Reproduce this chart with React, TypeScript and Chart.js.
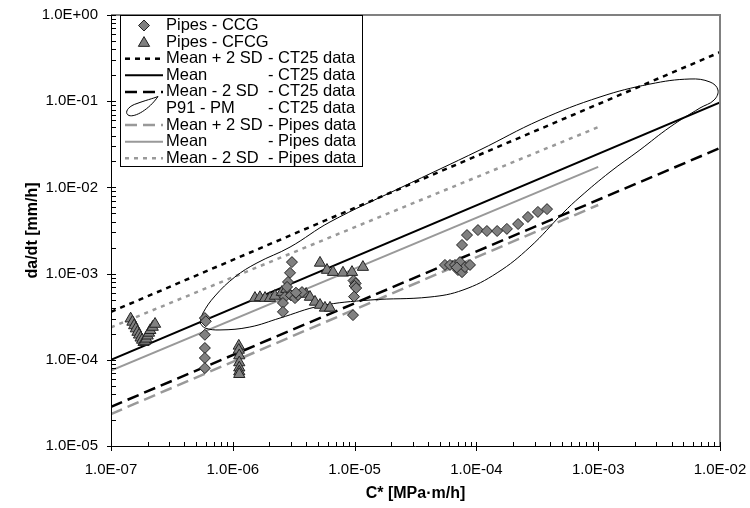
import React, { useEffect, useRef } from 'react';
import { Chart, registerables } from 'chart.js';

Chart.register(...registerables);

type Pt = [number, number];

// ---- axis ticks ----
const xMajorTicks = [1e-7, 1e-6, 1e-5, 1e-4, 1e-3, 1e-2];
const xTickLabels = ['1.0E-07', '1.0E-06', '1.0E-05', '1.0E-04', '1.0E-03', '1.0E-02'];
const yMajorTicks = [1e-5, 1e-4, 1e-3, 1e-2, 1e-1, 1];
const yTickLabels = ['1.0E-05', '1.0E-04', '1.0E-03', '1.0E-02', '1.0E-01', '1.0E+00'];
const minorMultipliers = [2, 3, 4, 5, 6, 7, 8, 9];

// ---- data ----
const ccgPoints: Pt[] = [
  [5.9e-7, 3.05e-4], [6.0e-7, 2.8e-4], [5.9e-7, 1.95e-4], [5.9e-7, 1.37e-4], [5.9e-7, 1.05e-4], [5.9e-7, 8.0e-5],
  [3.06e-6, 1.36e-3], [2.95e-6, 1.02e-3], [2.84e-6, 8.0e-4], [2.79e-6, 7.0e-4], [2.68e-6, 5.35e-4], [2.58e-6, 4.56e-4], [2.58e-6, 3.6e-4],
  [3.0e-6, 5.6e-4], [3.24e-6, 5.2e-4], [3.43e-6, 5.65e-4], [3.7e-6, 6.1e-4], [3.3e-6, 6.0e-4],
  [9.8e-6, 8.3e-4], [1.02e-5, 7.7e-4], [1.0e-5, 7.2e-4], [1.03e-5, 6.8e-4], [9.9e-6, 5.4e-4], [9.7e-6, 3.3e-4],
  [5.52e-5, 1.26e-3], [6.07e-5, 1.26e-3], [6.67e-5, 1.26e-3], [7.06e-5, 1.1e-3], [7.33e-5, 1.36e-3], [7.62e-5, 1.04e-3],
  [8.06e-5, 1.19e-3], [8.86e-5, 1.26e-3], [6.9e-5, 1.18e-3],
  [7.62e-5, 2.15e-3], [8.37e-5, 2.8e-3], [1.03e-4, 3.2e-3], [1.22e-4, 3.12e-3], [1.48e-4, 3.12e-3], [1.78e-4, 3.3e-3],
  [2.2e-4, 3.76e-3], [2.65e-4, 4.54e-3], [3.2e-4, 5.19e-3], [3.8e-4, 5.6e-3],
];

const cfcgPoints: Pt[] = [
  [1.45e-7, 3.0e-4], [1.5e-7, 2.75e-4], [1.55e-7, 2.5e-4], [1.6e-7, 2.3e-4], [1.65e-7, 2.1e-4], [1.7e-7, 1.95e-4],
  [1.75e-7, 1.8e-4], [1.8e-7, 1.7e-4], [1.85e-7, 1.6e-4], [1.9e-7, 1.65e-4], [1.95e-7, 1.75e-4], [2.0e-7, 1.9e-4],
  [2.05e-7, 2.05e-4], [2.1e-7, 2.2e-4], [2.2e-7, 2.4e-4], [2.3e-7, 2.6e-4],
  [1.12e-6, 1.45e-4], [1.12e-6, 1.3e-4], [1.13e-6, 1.12e-4], [1.13e-6, 9.3e-5], [1.13e-6, 8.1e-5], [1.13e-6, 7.3e-5], [1.13e-6, 6.8e-5],
  [1.52e-6, 5.2e-4], [1.67e-6, 5.3e-4], [1.84e-6, 5.2e-4], [2.02e-6, 5.2e-4], [2.22e-6, 5.5e-4], [2.53e-6, 6.1e-4], [2.75e-6, 6.6e-4],
  [4.0e-6, 5.8e-4], [4.3e-6, 5.35e-4], [4.73e-6, 4.69e-4], [5.2e-6, 4.32e-4], [5.71e-6, 4.0e-4], [6.28e-6, 4.0e-4],
  [5.2e-6, 1.33e-3], [5.93e-6, 1.1e-3], [6.65e-6, 1.04e-3], [8.03e-6, 1.02e-3], [9.52e-6, 1.04e-3], [1.17e-5, 1.19e-3],
];

const ct25Plus2SD: Pt[] = [[1e-7, 3.6e-4], [1e-2, 0.37]];
const ct25Mean: Pt[] = [[1e-7, 1.0e-4], [1e-2, 0.097]];
const ct25Minus2SD: Pt[] = [[1e-7, 2.85e-5], [1e-2, 0.0286]];

const p91Loop: Pt[] = [
  [5.38e-7, 2.67e-4], [5.69e-7, 3.49e-4], [7.14e-7, 5.5e-4], [1.04e-6, 9.13e-4], [1.58e-6, 1.33e-3],
  [2.95e-6, 2.03e-3], [6.28e-6, 3.97e-3], [2.36e-5, 9.84e-3], [1.07e-4, 0.0272], [3.33e-4, 0.0605],
  [1.035e-3, 0.112], [2.66e-3, 0.158], [5.67e-3, 0.181], [8.28e-3, 0.167], [9.62e-3, 0.135],
  [8.93e-3, 0.103], [6.85e-3, 0.0834], [3.89e-3, 0.0502], [2.2e-3, 0.0272], [1.25e-3, 0.0151],
  [7.09e-4, 7.74e-3], [5.14e-4, 5.05e-3], [2.75e-4, 2.03e-3], [1.48e-4, 1.02e-3], [7.76e-5, 6.45e-4],
  [4.16e-5, 5.35e-4], [1.34e-5, 4.94e-4], [5.2e-6, 4.21e-4], [2.44e-6, 3.05e-4], [1.38e-6, 2.4e-4],
  [7.85e-7, 2.22e-4], [5.91e-7, 2.34e-4], [5.38e-7, 2.67e-4],
];

const pipesPlus2SD: Pt[] = [[1e-7, 2.35e-5], [1e-3, 6.25e-3]];
const pipesMean: Pt[] = [[1e-7, 7.5e-5], [1e-3, 0.0173]];
const pipesMinus2SD: Pt[] = [[1e-7, 2.38e-4], [1e-3, 0.05]];

const legendNames = ['Pipes - CCG', 'Pipes - CFCG', 'Mean + 2 SD', 'Mean', 'Mean - 2 SD', 'P91 - PM', 'Mean + 2 SD', 'Mean', 'Mean - 2 SD'];
const legendSources = ['', '', '- CT25 data', '- CT25 data', '- CT25 data', '- CT25 data', '- Pipes data', '- Pipes data', '- Pipes data'];

const FONT = '"Liberation Sans", Arial, Helvetica, sans-serif';
const GRAY_LINE = '#999999';
const MARKER_FILL = '#808080';

const toXY = (pts: Pt[]) => pts.map(([x, y]) => ({ x, y }));

function buildTicks(majors: number[]) {
  const out: any[] = [];
  majors.forEach((m, i) => {
    out.push({ value: m, major: true });
    if (i < majors.length - 1) minorMultipliers.forEach((k) => out.push({ value: m * k, major: false }));
  });
  return out;
}

function labelFor(majors: number[], labels: string[], value: number) {
  const i = majors.findIndex((v) => Math.abs(Math.log10(v) - Math.log10(value)) < 1e-6);
  return i >= 0 ? labels[i] : '';
}

function isMajor(value: number) {
  const l = Math.log10(value);
  return Math.abs(l - Math.round(l)) < 1e-6;
}

function drawDiamond(ctx: CanvasRenderingContext2D, x: number, y: number, r: number) {
  ctx.beginPath();
  ctx.moveTo(x, y - r);
  ctx.lineTo(x + r, y);
  ctx.lineTo(x, y + r);
  ctx.lineTo(x - r, y);
  ctx.closePath();
  ctx.fill();
  ctx.stroke();
}

function drawTriangle(ctx: CanvasRenderingContext2D, x: number, y: number, r: number) {
  ctx.beginPath();
  ctx.moveTo(x, y - r);
  ctx.lineTo(x + r * 0.866, y + r * 0.5);
  ctx.lineTo(x - r * 0.866, y + r * 0.5);
  ctx.closePath();
  ctx.fill();
  ctx.stroke();
}

const framePlugin = {
  id: 'frameTicks',
  afterDatasetsDraw(chart: any) {
    const { ctx, chartArea: a, scales } = chart;
    const xs = scales.x;
    const ys = scales.y;
    ctx.save();
    ctx.strokeStyle = '#808080';
    ctx.lineWidth = 2;
    ctx.beginPath();
    ctx.moveTo(a.left, a.top);
    ctx.lineTo(a.right, a.top);
    ctx.lineTo(a.right, a.bottom);
    ctx.stroke();
    ctx.strokeStyle = '#000';
    ctx.lineWidth = 1;
    ctx.beginPath();
    ctx.moveTo(a.left + 0.5, a.top);
    ctx.lineTo(a.left + 0.5, a.bottom + 0.5);
    ctx.lineTo(a.right, a.bottom + 0.5);
    ctx.stroke();
    xs.ticks.forEach((t: any) => {
      const px = Math.round(xs.getPixelForValue(t.value)) + 0.5;
      ctx.beginPath();
      if (isMajor(t.value)) {
        ctx.moveTo(px, a.bottom + 5);
        ctx.lineTo(px, a.bottom - 4);
      } else {
        ctx.moveTo(px, a.bottom);
        ctx.lineTo(px, a.bottom - 4);
      }
      ctx.stroke();
    });
    ys.ticks.forEach((t: any) => {
      const py = Math.round(ys.getPixelForValue(t.value)) + 0.5;
      ctx.beginPath();
      if (isMajor(t.value)) {
        ctx.moveTo(a.left - 4, py);
        ctx.lineTo(a.left + 5, py);
      } else {
        ctx.moveTo(a.left, py);
        ctx.lineTo(a.left + 5, py);
      }
      ctx.stroke();
    });
    ctx.restore();
  },
  afterDraw(chart: any) {
    const { ctx, chartArea: a } = chart;
    const datasets = chart.data.datasets;
    const boxL = a.left + 9;
    const boxT = a.top;
    const boxR = a.left + 251;
    const boxB = a.top + 151;
    ctx.save();
    ctx.fillStyle = '#fff';
    ctx.fillRect(boxL, boxT, boxR - boxL, boxB - boxT);
    ctx.strokeStyle = '#000';
    ctx.lineWidth = 1;
    ctx.strokeRect(boxL + 0.5, boxT + 0.5, boxR - boxL, boxB - boxT);
    ctx.font = `16.5px ${FONT}`;
    ctx.textBaseline = 'middle';
    ctx.textAlign = 'left';
    const symL = boxL + 5;
    const symR = boxL + 43;
    const symC = (symL + symR) / 2;
    const textX = boxL + 46;
    const srcX = boxL + 148;
    datasets.forEach((ds: any, i: number) => {
      const y = boxT + 10.5 + 16.6 * i;
      ctx.save();
      if (ds.legendKind === 'diamond') {
        ctx.fillStyle = MARKER_FILL;
        ctx.strokeStyle = '#222';
        ctx.lineWidth = 1;
        drawDiamond(ctx, symC, y, 5.5);
      } else if (ds.legendKind === 'triangle') {
        ctx.fillStyle = MARKER_FILL;
        ctx.strokeStyle = '#222';
        ctx.lineWidth = 1;
        drawTriangle(ctx, symC, y + 1, 6.5);
      } else if (ds.legendKind === 'loop') {
        ctx.strokeStyle = '#000';
        ctx.lineWidth = 1;
        const x0 = symL;
        ctx.beginPath();
        ctx.moveTo(x0 + 33, y - 12);
        ctx.bezierCurveTo(x0 + 24, y + 1, x0 + 10, y + 9, x0 + 4, y + 7);
        ctx.bezierCurveTo(x0 - 1, y + 5, x0 + 2, y - 2, x0 + 12, y - 5);
        ctx.bezierCurveTo(x0 + 20, y - 8, x0 + 28, y - 10, x0 + 33, y - 12);
        ctx.stroke();
      } else {
        ctx.strokeStyle = ds.borderColor;
        ctx.lineWidth = ds.borderWidth;
        ctx.setLineDash(ds.borderDash || []);
        ctx.beginPath();
        ctx.moveTo(symL, y);
        ctx.lineTo(symR, y);
        ctx.stroke();
      }
      ctx.restore();
      ctx.fillStyle = '#000';
      ctx.fillText(legendNames[i], textX, y);
      if (legendSources[i]) ctx.fillText(legendSources[i], srcX, y);
    });
    ctx.restore();
  },
};

export default function App() {
  const canvasRef = useRef<HTMLCanvasElement | null>(null);

  useEffect(() => {
    if (!canvasRef.current) return;
    const lineDs = (data: Pt[], color: string, width: number, dash: number[]) => ({
      data: toXY(data),
      showLine: true,
      borderColor: color,
      borderWidth: width,
      borderDash: dash,
      pointRadius: 0,
      fill: false,
      legendKind: 'line',
    });
    const chart = new Chart(canvasRef.current, {
      type: 'scatter',
      data: {
        datasets: [
          {
            label: 'Pipes - CCG',
            data: toXY(ccgPoints),
            pointStyle: 'rectRot',
            pointRadius: 5.5,
            backgroundColor: MARKER_FILL,
            borderColor: '#222',
            borderWidth: 1,
            legendKind: 'diamond',
          } as any,
          {
            label: 'Pipes - CFCG',
            data: toXY(cfcgPoints),
            pointStyle: 'triangle',
            pointRadius: 6.5,
            backgroundColor: MARKER_FILL,
            borderColor: '#222',
            borderWidth: 1,
            legendKind: 'triangle',
          } as any,
          { label: 'Mean + 2 SD - CT25 data', ...lineDs(ct25Plus2SD, '#000', 2.5, [5, 5]) } as any,
          { label: 'Mean - CT25 data', ...lineDs(ct25Mean, '#000', 2, []) } as any,
          { label: 'Mean - 2 SD - CT25 data', ...lineDs(ct25Minus2SD, '#000', 2.5, [12, 6]) } as any,
          {
            label: 'P91 - PM - CT25 data',
            ...lineDs(p91Loop, '#000', 1, []),
            tension: 0.4,
            legendKind: 'loop',
          } as any,
          { label: 'Mean + 2 SD - Pipes data', ...lineDs(pipesPlus2SD, GRAY_LINE, 2.5, [12, 6]) } as any,
          { label: 'Mean - Pipes data', ...lineDs(pipesMean, GRAY_LINE, 2, []) } as any,
          { label: 'Mean - 2 SD - Pipes data', ...lineDs(pipesMinus2SD, GRAY_LINE, 2.5, [4, 5]) } as any,
        ],
      },
      options: {
        responsive: false,
        maintainAspectRatio: false,
        animation: false,
        devicePixelRatio: 1,
        layout: { padding: { left: 0, right: 30, top: 15, bottom: 0 } },
        plugins: { legend: { display: false }, tooltip: { enabled: false } },
        scales: {
          x: {
            type: 'logarithmic',
            position: 'bottom',
            min: 1e-7,
            max: 1e-2,
            afterBuildTicks: (s: any) => {
              s.ticks = buildTicks(xMajorTicks);
            },
            afterFit: (s: any) => {
              s.height = 62;
              s.paddingLeft = 0;
              s.paddingRight = 0;
            },
            grid: { display: false, drawTicks: false },
            border: { display: false },
            ticks: {
              autoSkip: false,
              maxRotation: 0,
              minRotation: 0,
              padding: 15,
              color: '#000',
              font: { family: FONT, size: 15 },
              callback: (v: any) => labelFor(xMajorTicks, xTickLabels, Number(v)),
            },
            title: {
              display: true,
              text: 'C* [MPa·m/h]',
              color: '#000',
              font: { family: FONT, size: 16, weight: 'bold' },
              padding: { top: 0, bottom: 5 },
            },
          },
          y: {
            type: 'logarithmic',
            position: 'left',
            min: 1e-5,
            max: 1,
            afterBuildTicks: (s: any) => {
              s.ticks = buildTicks(yMajorTicks);
            },
            afterFit: (s: any) => {
              s.width = 111;
              s.paddingTop = 0;
              s.paddingBottom = 0;
            },
            grid: { display: false, drawTicks: false },
            border: { display: false },
            ticks: {
              autoSkip: false,
              padding: 13,
              color: '#000',
              font: { family: FONT, size: 15 },
              callback: (v: any) => labelFor(yMajorTicks, yTickLabels, Number(v)),
            },
            title: {
              display: true,
              text: 'da/dt [mm/h]',
              color: '#000',
              font: { family: FONT, size: 16, weight: 'bold' },
              padding: { top: 23, bottom: 0 },
            },
          },
        },
      } as any,
      plugins: [framePlugin],
    });
    return () => chart.destroy();
  }, []);

  return (
    <div style={{ position: 'fixed', left: 0, top: 0, width: 750, height: 508, background: '#fff' }}>
      <canvas ref={canvasRef} width={750} height={508} style={{ display: 'block', width: 750, height: 508 }} />
    </div>
  );
}
